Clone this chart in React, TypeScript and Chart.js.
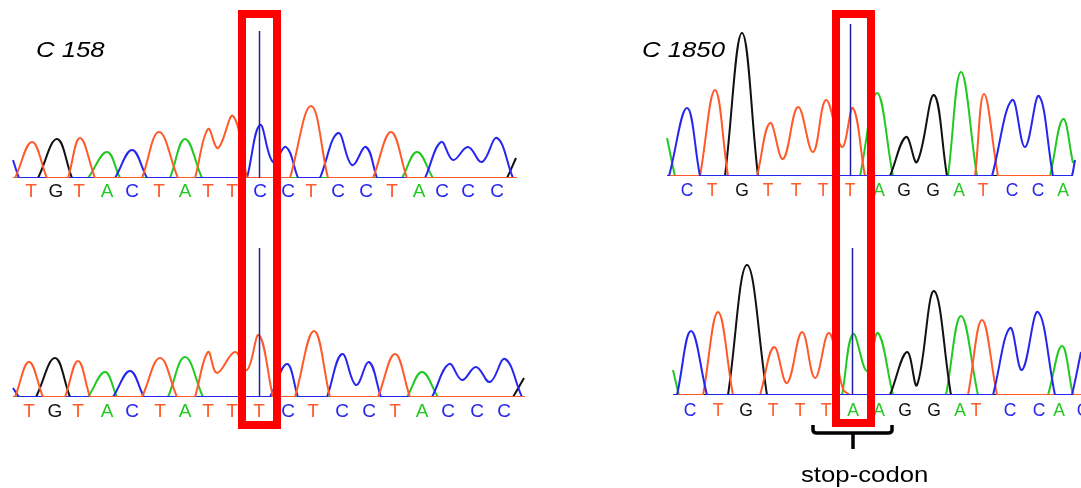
import React, { useEffect, useRef } from "react";
import { Chart, registerables } from "chart.js";

Chart.register(...registerables);

type Pt = [number, number];

// ---- colours per base ----
const BASE_COLORS: Record<string, string> = {
  A: "#22c922",
  C: "#2626ee",
  G: "#111111",
  T: "#ff5a2a",
};

// ================= C 158, upper trace =================
const LT_BASES = ["T", "G", "T", "A", "C", "T", "A", "T", "T", "C", "C", "T", "C", "C", "T", "A", "C", "C", "C"];
const LT_POS = [31, 56, 79, 107, 132, 159, 185, 208, 232, 260, 288, 311, 338, 366, 392, 419, 442, 468, 497];
const LT_T: Pt[] = [[14, 0], [15, 0], [32, 360], [47, 0], [48, 0], [67, 0], [68, 0], [80, 400], [95, 0], [96, 0], [141, 0], [142, 0], [159, 460], [178, 0], [179, 0], [194, 0], [195, 0], [208, 490], [218, 300], [233, 620], [247, 0], [248, 0], [289, 0], [290, 0], [311, 720], [328, 0], [329, 0], [372, 0], [373, 0], [391, 460], [407, 0], [408, 0], [517, 0]];
const LT_G: Pt[] = [[13, 0], [37, 0], [38, 0], [57, 390], [72, 0], [73, 0], [506, 0], [507, 0], [516, 200]];
const LT_A: Pt[] = [[13, 0], [87, 0], [88, 0], [107, 260], [120, 0], [121, 0], [169, 0], [170, 0], [185, 390], [202, 0], [203, 0], [401, 0], [402, 0], [417, 260], [433, 0], [434, 0], [517, 0]];
const LT_C: Pt[] = [[13, 180], [19, 0], [20, 0], [114, 0], [115, 0], [132, 280], [147, 0], [148, 0], [246, 0], [247, 0], [260, 530], [273, 160], [286, 310], [298, 0], [299, 0], [319, 0], [320, 0], [338, 450], [352, 130], [366, 310], [377, 0], [378, 0], [424, 0], [425, 0], [441, 360], [453, 180], [468, 310], [482, 160], [497, 400], [513, 0], [514, 0], [517, 0]];

// ================= C 158, lower trace =================
const LB_BASES = ["T", "G", "T", "A", "C", "T", "A", "T", "T", "T", "C", "T", "C", "C", "T", "A", "C", "C", "C"];
const LB_POS = [29, 55, 78, 107, 132, 160, 185, 208, 232, 259, 288, 313, 342, 369, 395, 422, 448, 477, 504];
const LB_T: Pt[] = [[14, 0], [15, 0], [29, 350], [43, 0], [44, 0], [64, 0], [65, 0], [78, 360], [90, 0], [91, 0], [141, 0], [142, 0], [160, 390], [177, 0], [178, 0], [194, 0], [195, 0], [208, 450], [217, 240], [235, 450], [247, 270], [259, 620], [273, 0], [274, 0], [294, 0], [295, 0], [314, 660], [330, 0], [331, 0], [377, 0], [378, 0], [395, 430], [410, 0], [411, 0], [525, 0]];
const LB_G: Pt[] = [[13, 0], [35, 0], [36, 0], [55, 390], [70, 0], [71, 0], [512, 0], [513, 0], [524, 190]];
const LB_A: Pt[] = [[13, 0], [87, 0], [88, 0], [105, 250], [117, 0], [118, 0], [167, 0], [168, 0], [185, 400], [203, 0], [204, 0], [406, 0], [407, 0], [422, 250], [438, 0], [439, 0], [525, 0]];
const LB_C: Pt[] = [[13, 90], [19, 0], [20, 0], [112, 0], [113, 0], [130, 260], [144, 0], [145, 0], [269, 0], [270, 0], [287, 330], [298, 0], [299, 0], [326, 0], [327, 0], [342, 430], [356, 120], [369, 350], [381, 0], [382, 0], [431, 0], [432, 0], [449, 330], [462, 170], [476, 300], [490, 150], [505, 380], [522, 0], [523, 0], [525, 0]];

// ================= C 1850, upper trace =================
const RT_BASES = ["C", "T", "G", "T", "T", "T", "T", "A", "G", "G", "A", "T", "C", "C", "A"];
const RT_POS = [687, 712, 742, 768, 796, 823, 850, 879, 904, 933, 959, 983, 1012, 1038, 1063];
const RT_T: Pt[] = [[667, 0], [699, 0], [700, 0], [715, 860], [728, 0], [729, 0], [756, 0], [757, 0], [770, 530], [783, 170], [798, 690], [813, 240], [826, 760], [842, 290], [853, 680], [865, 0], [866, 0], [974, 0], [975, 0], [984, 820], [998, 0], [999, 0], [1073, 0]];
const RT_G: Pt[] = [[667, 0], [724, 0], [725, 0], [742, 1430], [758, 0], [759, 0], [889, 0], [890, 0], [906, 390], [917, 140], [934, 810], [947, 0], [948, 0], [1073, 0]];
const RT_A: Pt[] = [[667, 380], [675, 0], [676, 0], [859, 0], [860, 0], [877, 830], [893, 0], [894, 0], [947, 0], [948, 0], [961, 1040], [977, 0], [978, 0], [1049, 0], [1050, 0], [1063, 570], [1073, 130]];
const RT_C: Pt[] = [[667, 0], [668, 0], [669, 0], [687, 680], [700, 0], [701, 0], [991, 0], [992, 0], [1012, 760], [1025, 290], [1039, 800], [1053, 0], [1054, 0], [1071, 0], [1072, 0], [1075, 160]];

// ================= C 1850, lower trace =================
const RB_BASES = ["C", "T", "G", "T", "T", "T", "A", "A", "G", "G", "A", "T", "C", "C", "A", "C"];
const RB_POS = [690, 718, 746, 773, 800, 826, 853, 879, 905, 934, 960, 976, 1010, 1039, 1059, 1083];
const RB_T: Pt[] = [[673, 0], [702, 0], [703, 0], [718, 830], [733, 0], [734, 0], [759, 0], [760, 0], [774, 480], [787, 120], [802, 630], [815, 170], [829, 620], [843, 60], [850, 0], [851, 0], [967, 0], [968, 0], [982, 750], [997, 0], [998, 0], [1081, 0]];
const RB_G: Pt[] = [[673, 0], [727, 0], [728, 0], [747, 1300], [767, 0], [768, 0], [889, 0], [890, 0], [907, 430], [917, 100], [934, 1040], [951, 0], [952, 0], [1081, 0]];
const RB_A: Pt[] = [[673, 250], [679, 0], [680, 0], [841, 0], [842, 0], [853, 610], [867, 240], [878, 620], [893, 0], [894, 0], [945, 0], [946, 0], [961, 790], [978, 0], [979, 0], [1047, 0], [1048, 0], [1062, 490], [1073, 0], [1074, 0], [1081, 0]];
const RB_C: Pt[] = [[673, 0], [676, 0], [677, 0], [691, 640], [707, 0], [708, 0], [992, 0], [993, 0], [1010, 670], [1022, 250], [1038, 830], [1055, 0], [1056, 0], [1071, 0], [1072, 0], [1081, 430]];

type Panel = {
  left: number;
  top: number;
  width: number;
  height: number;
  padBottom: number;
  bases: string[];
  pos: number[];
  traces: { T: Pt[]; G: Pt[]; A: Pt[]; C: Pt[] };
  order: ("T" | "G" | "A" | "C")[];
  letterSize: number;
  letterDy: number;
  cursorX: number;
  cursorTop: number;
  boxCx: number;
  boxPart: "top" | "bottom";
  boxEdge: number;
  label?: { text: string; x: number; y: number };
  bracket?: { from: number; to: number; mid: number; text: string };
};

const PANELS: Panel[] = [
  {
    left: 0, top: 0, width: 540, height: 230, padBottom: 52,
    bases: LT_BASES, pos: LT_POS,
    traces: { T: LT_T, G: LT_G, A: LT_A, C: LT_C },
    order: ["T", "C", "A", "G"],
    letterSize: 19, letterDy: 19,
    cursorX: 258.5, cursorTop: 1470,
    boxCx: 259.5, boxPart: "top", boxEdge: 10,
    label: { text: "C 158", x: 36, y: 57 },
  },
  {
    left: 0, top: 230, width: 540, height: 258, padBottom: 91,
    bases: LB_BASES, pos: LB_POS,
    traces: { T: LB_T, G: LB_G, A: LB_A, C: LB_C },
    order: ["T", "C", "A", "G"],
    letterSize: 19, letterDy: 20,
    cursorX: 258.5, cursorTop: 1490,
    boxCx: 259.5, boxPart: "bottom", boxEdge: 199,
  },
  {
    left: 600, top: 0, width: 481, height: 230, padBottom: 54,
    bases: RT_BASES, pos: RT_POS,
    traces: { T: RT_T, G: RT_G, A: RT_A, C: RT_C },
    order: ["C", "T", "G", "A"],
    letterSize: 17.5, letterDy: 20,
    cursorX: 850, cursorTop: 1520,
    boxCx: 853.5, boxPart: "top", boxEdge: 10,
    label: { text: "C 1850", x: 42, y: 57 },
  },
  {
    left: 600, top: 230, width: 481, height: 258, padBottom: 93,
    bases: RB_BASES, pos: RB_POS,
    traces: { T: RB_T, G: RB_G, A: RB_A, C: RB_C },
    order: ["C", "T", "G", "A"],
    letterSize: 17.5, letterDy: 21,
    cursorX: 852, cursorTop: 1470,
    boxCx: 853.5, boxPart: "bottom", boxEdge: 197,
    bracket: { from: 5, to: 7, mid: 6, text: "stop-codon" },
  },
];

const FONT = '"Liberation Sans", Arial, Helvetica, sans-serif';

function makeOverlay(p: Panel) {
  return {
    id: "chromOverlay",
    afterDatasetsDraw(chart: any) {
      const ctx: CanvasRenderingContext2D = chart.ctx;
      const xs = chart.scales.x;
      const ys = chart.scales.y;
      const base = ys.getPixelForValue(0);
      ctx.save();

      // base calls
      ctx.font = `${p.letterSize}px ${FONT}`;
      ctx.textAlign = "center";
      ctx.textBaseline = "alphabetic";
      p.bases.forEach((b, i) => {
        ctx.fillStyle = BASE_COLORS[b];
        ctx.fillText(b, xs.getPixelForValue(p.pos[i]), base + p.letterDy);
      });

      // cursor line
      const cx = Math.round(xs.getPixelForValue(p.cursorX)) + 0.5;
      ctx.strokeStyle = "#1f1fa8";
      ctx.lineWidth = 1.5;
      ctx.beginPath();
      ctx.moveTo(cx, ys.getPixelForValue(p.cursorTop));
      ctx.lineTo(cx, base);
      ctx.stroke();

      // red highlight box (split between the two panels of a column)
      const bx = xs.getPixelForValue(p.boxCx) - 21.5;
      const bw = 43;
      const th = 8;
      ctx.fillStyle = "#ff0000";
      if (p.boxPart === "top") {
        const y0 = p.boxEdge;
        ctx.fillRect(bx, y0, bw, th);
        ctx.fillRect(bx, y0, th, chart.height - y0);
        ctx.fillRect(bx + bw - th, y0, th, chart.height - y0);
      } else {
        const y1 = p.boxEdge;
        ctx.fillRect(bx, 0, th, y1);
        ctx.fillRect(bx + bw - th, 0, th, y1);
        ctx.fillRect(bx, y1 - th, bw, th);
      }

      // sample label
      if (p.label) {
        ctx.fillStyle = "#000";
        ctx.font = `italic 22px ${FONT}`;
        ctx.textAlign = "left";
        ctx.save();
        ctx.translate(p.label.x, p.label.y);
        ctx.scale(1.17, 1);
        ctx.fillText(p.label.text, 0, 0);
        ctx.restore();
      }

      // stop-codon bracket
      if (p.bracket) {
        const half = 13;
        const l = xs.getPixelForValue(p.pos[p.bracket.from]) - half;
        const r = xs.getPixelForValue(p.pos[p.bracket.to]) + half;
        const m = xs.getPixelForValue(p.pos[p.bracket.mid]);
        const yTip = 195;
        const yBar = 203;
        const yNotch = 219;
        ctx.strokeStyle = "#000";
        ctx.lineWidth = 3.5;
        ctx.lineJoin = "round";
        ctx.lineCap = "butt";
        ctx.beginPath();
        ctx.moveTo(l, yTip);
        ctx.lineTo(l, yBar - 3);
        ctx.quadraticCurveTo(l, yBar, l + 4, yBar);
        ctx.lineTo(r - 4, yBar);
        ctx.quadraticCurveTo(r, yBar, r, yBar - 3);
        ctx.lineTo(r, yTip);
        ctx.stroke();
        ctx.beginPath();
        ctx.moveTo(m, yBar);
        ctx.lineTo(m, yNotch);
        ctx.stroke();

        ctx.fillStyle = "#000";
        ctx.font = `22px ${FONT}`;
        ctx.textAlign = "left";
        ctx.save();
        ctx.translate(l - 12, 252);
        ctx.scale(1.17, 1);
        ctx.fillText(p.bracket.text, 0, 0);
        ctx.restore();
      }

      ctx.restore();
    },
  };
}

function PanelChart({ p }: { p: Panel }) {
  const ref = useRef<HTMLCanvasElement>(null);
  useEffect(() => {
    if (!ref.current) return;
    const areaH = p.height - p.padBottom;
    const chart = new Chart(ref.current, {
      type: "line",
      data: {
        datasets: p.order.map((b) => ({
          label: b,
          data: p.traces[b].map(([x, y]) => ({ x, y })),
          borderColor: BASE_COLORS[b],
          borderWidth: 2,
          pointRadius: 0,
          fill: false,
          tension: 0.4,
        })),
      },
      options: {
        responsive: false,
        animation: false,
        devicePixelRatio: 1,
        events: [],
        elements: { line: { capBezierPoints: true } },
        layout: { padding: { left: 0, right: 0, top: 0, bottom: p.padBottom } },
        scales: {
          x: { type: "linear", min: p.left, max: p.left + p.width, display: false },
          y: { type: "linear", min: 0, max: areaH * 10, display: false },
        },
        plugins: { legend: { display: false }, tooltip: { enabled: false } },
      },
      plugins: [makeOverlay(p)],
    });
    return () => chart.destroy();
  }, [p]);
  return (
    <canvas
      ref={ref}
      width={p.width}
      height={p.height}
      style={{ position: "absolute", left: p.left, top: p.top, width: p.width, height: p.height }}
    />
  );
}

export default function App() {
  return (
    <div
      style={{
        position: "absolute",
        left: 0,
        top: 0,
        width: 1081,
        height: 488,
        overflow: "hidden",
        background: "#ffffff",
      }}
    >
      {PANELS.map((p, i) => (
        <PanelChart key={i} p={p} />
      ))}
    </div>
  );
}
